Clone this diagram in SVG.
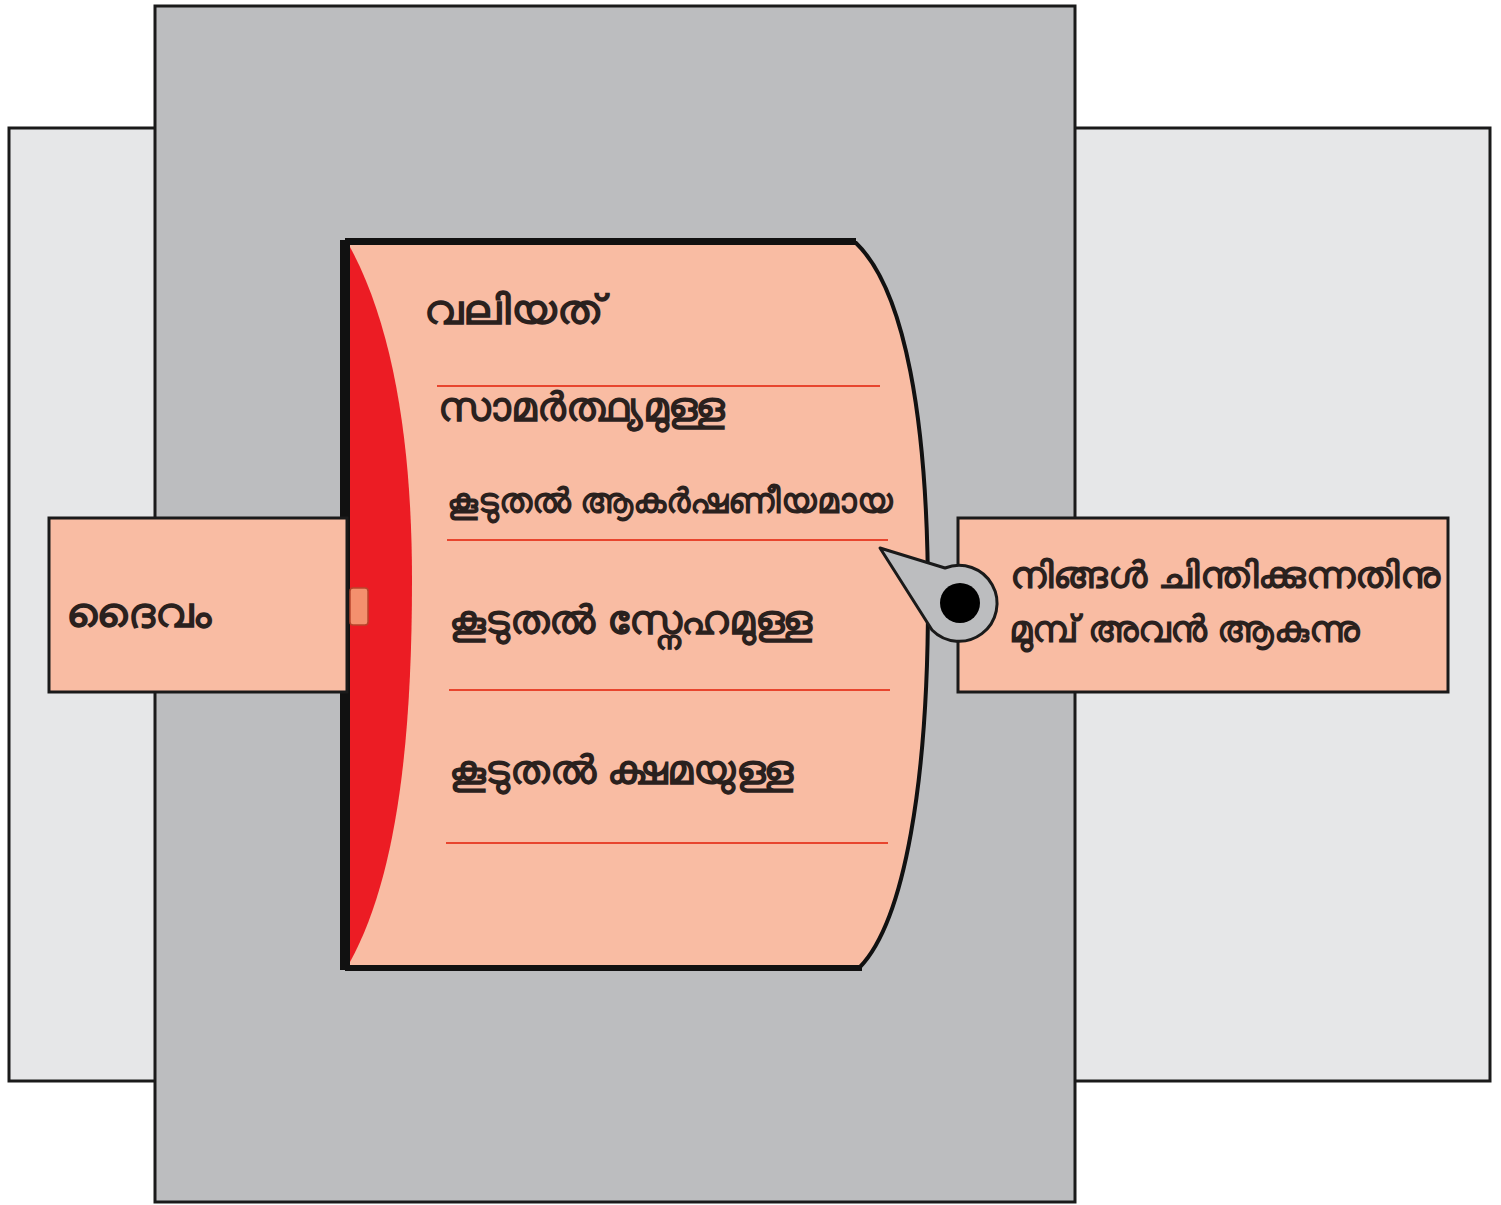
<svg xmlns="http://www.w3.org/2000/svg" width="1501" height="1205" viewBox="0 0 1501 1205">
<style>
.frame{stroke:#1a1a1a;stroke-width:3}
.box{fill:#f9bca3;stroke:#1a1a1a;stroke-width:3}
.rule{stroke:#e8452e;stroke-width:2}
.t{font-family:"Noto Sans","DejaVu Sans",sans-serif;font-weight:bold;fill:#2a211e}
</style>
<rect width="1501" height="1205" fill="#ffffff"/>
<g id="background-side">
<rect class="frame" x="9" y="128" width="1481" height="953" fill="#e6e7e8"/>
</g>
<g id="background-center">
<rect class="frame" x="155" y="6" width="920" height="1196" fill="#bcbdbf"/>
</g>
<g id="scroll">
<path d="M345,243 L856,243 C905,290 928,420 928,600 C928,780 905,920 860,967 L345,967 Z" fill="#f9bca3" stroke="#111" stroke-width="4"/>
<path d="M345,241 L856,241" stroke="#111" stroke-width="6"/>
<path d="M345,968 L862,968" stroke="#111" stroke-width="6"/>
<path d="M350,247 C395,330 412,450 412,580 C412,750 395,880 350,962 Z" fill="#ec1c24"/>
<path d="M345,240 L345,970" stroke="#111" stroke-width="10"/>
<rect x="350" y="588" width="18" height="37" rx="3" fill="#f4906e" stroke="#b8442c" stroke-width="1.5"/>
<line class="rule" x1="437" y1="386" x2="880" y2="386"/>
<line class="rule" x1="447" y1="540" x2="888" y2="540"/>
<line class="rule" x1="449" y1="690" x2="890" y2="690"/>
<line class="rule" x1="446" y1="843" x2="888" y2="843"/>
<text class="t" x="424" y="324" font-size="41" textLength="180" lengthAdjust="spacingAndGlyphs">വലിയത്</text>
<text class="t" x="438" y="421" font-size="40" textLength="287" lengthAdjust="spacingAndGlyphs">സാമർത്ഥ്യമുള്ള</text>
<text class="t" x="447" y="513" font-size="35" textLength="446" lengthAdjust="spacingAndGlyphs">കൂടുതൽ ആകർഷണീയമായ</text>
<text class="t" x="449" y="634" font-size="40" textLength="363" lengthAdjust="spacingAndGlyphs">കൂടുതൽ സ്നേഹമുള്ള</text>
<text class="t" x="449" y="784" font-size="40" textLength="344" lengthAdjust="spacingAndGlyphs">കൂടുതൽ ക്ഷമയുള്ള</text>
</g>
<g id="left-box">
<rect class="box" x="49" y="518" width="298" height="174"/>
<text class="t" x="66" y="627" font-size="42" textLength="146" lengthAdjust="spacingAndGlyphs">ദൈവം</text>
</g>
<g id="right-box">
<rect class="box" x="958" y="518" width="490" height="174"/>
<text class="t" x="1010" y="588" font-size="37" textLength="430" lengthAdjust="spacingAndGlyphs">നിങ്ങൾ ചിന്തിക്കുന്നതിനു</text>
<text class="t" x="1009" y="642" font-size="37" textLength="350" lengthAdjust="spacingAndGlyphs">മുമ്പ് അവൻ ആകുന്നു</text>
</g>
<g id="connectors">
<path d="M880,548 L945,568 A38,38 0 1 1 932,630 Z" fill="#bcbdbf" stroke="#1a1a1a" stroke-width="3" stroke-linejoin="round"/>
<circle cx="960" cy="603" r="20" fill="#000"/>
</g>
</svg>
